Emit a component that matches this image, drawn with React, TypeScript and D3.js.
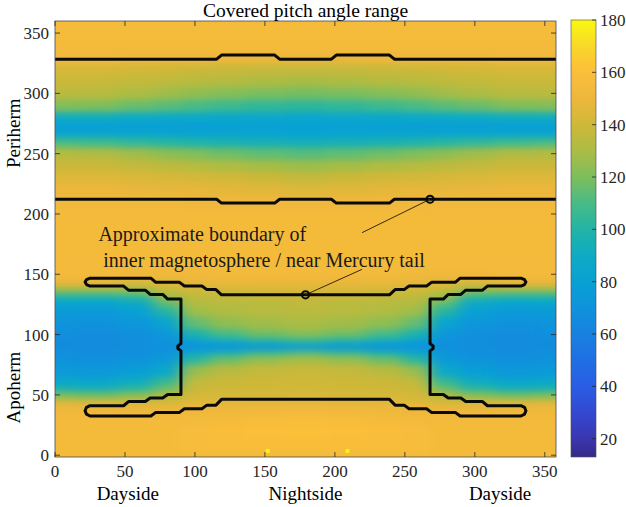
import React from "react";
import * as d3 from "d3";

// ---------------- data ----------------
const xCols = [0, 30, 60, 80, 100, 120, 150, 179, 208, 238, 258, 278, 298, 328, 358];
const yRows = [0, 10, 20, 30, 40, 45, 50, 55, 60, 70, 80, 85, 90, 95, 100, 110, 120, 125, 130, 135, 140, 145, 150, 160, 180, 200, 210, 220, 230, 240, 250, 260, 265, 270, 275, 280, 290, 300, 310, 320, 330, 340, 350, 360];
// covered pitch angle range (deg), one row per yRows entry, one column per xCols entry
const coveredRange = [
  [155, 155, 155, 155, 156, 156, 156, 156, 156, 156, 156, 155, 155, 155, 155],
  [155, 155, 155, 155, 157, 158, 159, 159, 159, 158, 157, 155, 155, 155, 155],
  [155, 155, 155, 155, 157, 159, 160, 161, 160, 159, 157, 155, 155, 155, 155],
  [154, 154, 154, 154, 155, 156, 157, 158, 157, 156, 155, 154, 154, 154, 154],
  [151, 151, 150, 149, 150, 151, 152, 153, 152, 151, 150, 149, 150, 151, 151],
  [144, 143, 141, 142, 145, 146, 146, 146, 146, 146, 145, 142, 141, 143, 144],
  [120, 118, 123, 132, 142, 142, 142, 143, 142, 142, 142, 132, 123, 118, 120],
  [98, 96, 104, 118, 139, 140, 140, 141, 140, 140, 139, 118, 104, 96, 98],
  [86, 85, 91, 106, 136, 139, 140, 140, 140, 139, 136, 106, 91, 85, 86],
  [75, 74, 78, 87, 126, 134, 137, 138, 137, 134, 126, 87, 78, 74, 75],
  [70, 69, 71, 75, 104, 118, 126, 130, 126, 118, 104, 75, 71, 69, 70],
  [68, 67, 69, 71, 86, 96, 106, 112, 106, 96, 86, 71, 69, 67, 68],
  [67, 66, 68, 69, 70, 70, 72, 74, 72, 70, 70, 69, 68, 66, 67],
  [67, 66, 68, 70, 80, 90, 98, 104, 98, 90, 80, 70, 68, 66, 67],
  [68, 67, 69, 73, 98, 110, 118, 122, 118, 110, 98, 73, 69, 67, 68],
  [71, 70, 73, 83, 115, 124, 128, 130, 128, 124, 115, 83, 73, 70, 71],
  [76, 75, 79, 100, 127, 131, 133, 134, 133, 131, 127, 100, 79, 75, 76],
  [81, 80, 85, 112, 131, 133, 134, 135, 134, 133, 131, 112, 85, 80, 81],
  [92, 91, 97, 122, 134, 135, 136, 137, 136, 135, 134, 122, 97, 91, 92],
  [114, 114, 116, 133, 138, 139, 140, 141, 140, 139, 138, 133, 116, 114, 114],
  [138, 138, 134, 141, 143, 144, 145, 145, 145, 144, 143, 141, 134, 138, 138],
  [150, 150, 147, 147, 149, 150, 150, 151, 150, 150, 149, 147, 147, 150, 150],
  [154, 154, 153, 153, 153, 154, 154, 154, 154, 154, 153, 153, 153, 154, 154],
  [155, 155, 155, 155, 155, 155, 155, 155, 155, 155, 155, 155, 155, 155, 155],
  [155, 155, 155, 155, 155, 155, 155, 155, 155, 155, 155, 155, 155, 155, 155],
  [155, 155, 155, 155, 155, 155, 155, 155, 155, 155, 155, 155, 155, 155, 155],
  [153, 153, 153, 153, 152, 152, 152, 152, 152, 152, 152, 153, 153, 153, 153],
  [150, 150, 149, 148, 148, 147, 146, 145, 146, 147, 148, 148, 149, 150, 150],
  [145, 145, 144, 143, 142, 141, 139, 137, 139, 141, 142, 143, 144, 145, 145],
  [139, 139, 137, 135, 133, 131, 129, 127, 129, 131, 133, 135, 137, 139, 139],
  [133, 132, 128, 124, 121, 118, 115, 113, 115, 118, 121, 124, 128, 132, 133],
  [112, 110, 106, 103, 100, 98, 96, 95, 96, 98, 100, 103, 106, 110, 112],
  [90, 90, 89, 88, 87, 86, 85, 84, 85, 86, 87, 88, 89, 90, 90],
  [78, 78, 79, 79, 80, 80, 80, 80, 80, 80, 80, 79, 79, 78, 78],
  [80, 80, 79, 79, 79, 80, 80, 80, 80, 80, 79, 79, 79, 80, 80],
  [92, 92, 90, 89, 88, 87, 86, 85, 86, 87, 88, 89, 90, 92, 92],
  [121, 120, 116, 113, 110, 107, 104, 103, 104, 107, 110, 113, 116, 120, 121],
  [134, 133, 130, 127, 124, 121, 119, 118, 119, 121, 124, 127, 130, 133, 134],
  [138, 138, 136, 135, 133, 132, 130, 129, 130, 132, 133, 135, 136, 138, 138],
  [142, 142, 141, 140, 139, 138, 137, 137, 137, 138, 139, 140, 141, 142, 142],
  [152, 152, 151, 151, 151, 150, 150, 150, 150, 150, 151, 151, 151, 152, 152],
  [155, 155, 155, 155, 155, 155, 155, 155, 155, 155, 155, 155, 155, 155, 155],
  [156, 156, 156, 156, 156, 156, 156, 156, 156, 156, 156, 156, 156, 156, 156],
  [156, 156, 156, 156, 156, 156, 156, 156, 156, 156, 156, 156, 156, 156, 156],
];
const hotX = [152, 209];
const hotY = [3.5, 3.5];
const hotValue = [178, 178];

const periX = [0, 115.5, 119, 157, 160.5, 197.5, 201, 239, 242.5, 358];
const periTopY = [328.3, 328.3, 331.8, 331.8, 328.3, 328.3, 331.8, 331.8, 328.3, 328.3];
const periBotY = [212.2, 212.2, 209, 209, 212.2, 212.2, 209, 209, 212.2, 212.2];
const apoBoundary: [number, number][] = [
  [21.5, 143.5], [22.5, 145.5], [25, 146.8], [68.5, 146.8], [72, 143.3], [89, 143.3], [92.5, 140.3], [105, 140.3],
  [108.5, 137.3], [115, 137.3], [119, 133], [239, 133], [243, 137.3], [249.5, 137.3], [253, 140.3], [265.5, 140.3],
  [269, 143.3], [286, 143.3], [289.5, 146.8], [333, 146.8], [335.5, 145.5], [336.5, 143.5], [335.5, 141.5], [333, 140.2],
  [309, 140.2], [305.5, 136.8], [293.5, 136.8], [290, 133.3], [281, 133.3], [277.5, 129.4], [268, 129.4],
  [268, 92.5], [270.2, 90.5], [270.2, 88.5], [268, 86.5], [268, 50.3],
  [277.5, 50.3], [281, 47.4], [290, 47.4], [293.5, 44.5], [305.5, 44.5], [309, 41], [333, 41],
  [335.5, 39.7], [336.5, 36.8], [335.5, 34], [333, 32.5],
  [289.5, 32.5], [286, 35.5], [269, 35.5], [265.5, 38.5], [253, 38.5], [249.5, 41.5], [243, 41.5], [239, 46.3],
  [119, 46.3], [115, 41.5], [108.5, 41.5], [105, 38.5], [92.5, 38.5], [89, 35.5], [72, 35.5], [68.5, 32.5], [25, 32.5],
  [22.5, 34], [21.5, 36.8], [22.5, 39.7], [25, 41],
  [49, 41], [52.5, 44.5], [64.5, 44.5], [68, 47.4], [77, 47.4], [80.5, 50.3], [90, 50.3],
  [90, 86.5], [87.8, 88.5], [87.8, 90.5], [90, 92.5], [90, 129.4],
  [80.5, 129.4], [77, 133.3], [68, 133.3], [64.5, 136.8], [52.5, 136.8], [49, 140.2], [25, 140.2], [22.5, 141.5],
];
const markerX = [268, 179];
const markerY = [212.2, 133];
const noteLines = ["Approximate boundary of", "inner magnetosphere / near Mercury tail"];
const noteX = [31, 34.5];
const noteY = [177.3, 156];
const leaderEndX = [219.4, 219.4];
const leaderEndY = [184.5, 154.1];

const xTicks = [0, 50, 100, 150, 200, 250, 300, 350];
const yTicks = [0, 50, 100, 150, 200, 250, 300, 350];
const cTicks = [20, 40, 60, 80, 100, 120, 140, 160, 180];
const sideLabelsX = ["Dayside", "Nightside", "Dayside"];
const sideLabelsXPos = [52, 179, 318];
const sideLabelsY = ["Apoherm", "Periherm"];
const sideLabelsYPos = [56, 267];
const titleText = "Covered pitch angle range";

// ---------------- styles ----------------
const FONT = "'Liberation Serif', 'Times New Roman', serif";
const C_MIN = 13;
const C_MAX = 180;
const cmapValues = [13, 20, 30, 40, 50, 60, 70, 80, 90, 100, 110, 120, 130, 140, 150, 160, 165, 170, 180];
const cmapColors = [
  "#352A87", "#3A36B0", "#3448D2", "#2A5DE4", "#1F6FE3", "#1881E0", "#0F92DC", "#08A1D4", "#0EABC3", "#22B4A6",
  "#48BB86", "#7DBE5C", "#ABBC44", "#CFB838", "#EDB73C", "#FBBE3A", "#FCC932", "#F8D82A", "#F9F90F",
];

export default function App() {
  const L = 55, R = 556, T = 21, B = 457;
  const x = d3.scaleLinear().domain([0, 358]).range([L, R]);
  const y = d3.scaleLinear().domain([-1.5, 360]).range([B, T]);
  const color = d3
    .scaleLinear<string>()
    .domain(cmapValues)
    .range(cmapColors)
    .interpolate(d3.interpolateRgb)
    .clamp(true);

  const CB_L = 571, CB_R = 596, CB_T = 20, CB_B = 457;
  const cy = d3.scaleLinear().domain([C_MIN, C_MAX]).range([CB_B, CB_T]);

  const edge = (arr: number[], i: number, pad: number) => {
    const lo = i === 0 ? arr[0] - pad : (arr[i - 1] + arr[i]) / 2;
    const hi = i === arr.length - 1 ? arr[i] + pad : (arr[i] + arr[i + 1]) / 2;
    return [lo, hi];
  };

  const cells: JSX.Element[] = [];
  yRows.forEach((yv, j) => {
    const [y0, y1] = edge(yRows, j, 25);
    xCols.forEach((xv, i) => {
      const [x0, x1] = edge(xCols, i, 25);
      cells.push(
        <rect
          key={`c${i}-${j}`}
          x={x(x0)}
          y={y(y1)}
          width={x(x1) - x(x0) + 0.6}
          height={y(y0) - y(y1) + 0.6}
          fill={color(coveredRange[j][i])}
        />
      );
    });
  });

  const line = d3.line<[number, number]>().x((d) => x(d[0])).y((d) => y(d[1]));
  const periTop = line(periX.map((v, i) => [v, periTopY[i]] as [number, number]));
  const periBot = line(periX.map((v, i) => [v, periBotY[i]] as [number, number]));
  const apoPath = line(apoBoundary) + "Z";

  const tickColor = "#262626";

  return (
    <svg width={626} height={507} style={{ position: "absolute", left: 0, top: 0, background: "#fff" }} fontFamily={FONT}>
      <defs>
        <clipPath id="plotClip">
          <rect x={L} y={T} width={R - L} height={B - T} />
        </clipPath>
        <filter id="smooth" x="-10%" y="-10%" width="120%" height="120%" colorInterpolationFilters="sRGB">
          <feGaussianBlur stdDeviation="8 3" />
        </filter>
        <linearGradient id="cbar" x1="0" y1="1" x2="0" y2="0">
          {cmapValues.map((v, i) => (
            <stop key={v} offset={(v - C_MIN) / (C_MAX - C_MIN)} stopColor={cmapColors[i]} />
          ))}
        </linearGradient>
      </defs>

      {/* heatmap */}
      <g clipPath="url(#plotClip)">
        <g filter="url(#smooth)" shapeRendering="crispEdges">{cells}</g>
        {hotX.map((hx, i) => (
          <rect key={`h${i}`} x={x(hx) - 2} y={y(hotY[i]) - 2} width={4} height={4} fill={color(hotValue[i])} />
        ))}
      </g>

      {/* boundaries */}
      <path d={periTop || ""} fill="none" stroke="#0a0a0a" strokeWidth={3} strokeLinejoin="round" />
      <path d={periBot || ""} fill="none" stroke="#0a0a0a" strokeWidth={3} strokeLinejoin="round" />
      <path d={apoPath} fill="none" stroke="#0a0a0a" strokeWidth={3} strokeLinejoin="round" />

      {/* annotation */}
      {markerX.map((mx, i) => (
        <g key={`m${i}`}>
          <line x1={x(mx)} y1={y(markerY[i])} x2={x(leaderEndX[i])} y2={y(leaderEndY[i])} stroke="#3a2a10" strokeWidth={1} />
          <circle cx={x(mx)} cy={y(markerY[i])} r={3.6} fill="none" stroke="#0a0a0a" strokeWidth={2} />
        </g>
      ))}
      {noteLines.map((t, i) => (
        <text key={`n${i}`} x={x(noteX[i])} y={y(noteY[i])} fontSize={20} fill="#1a1a1a">
          {t}
        </text>
      ))}

      {/* axes box & ticks */}
      <rect x={L} y={T} width={R - L} height={B - T} fill="none" stroke="#4a4a4a" strokeWidth={0.8} />
      {xTicks.map((t) => (
        <g key={`xt${t}`}>
          <line x1={x(t)} x2={x(t)} y1={B} y2={B - 5} stroke={tickColor} strokeWidth={0.8} />
          <line x1={x(t)} x2={x(t)} y1={T} y2={T + 5} stroke={tickColor} strokeWidth={0.8} />
          <text x={x(t)} y={477} fontSize={17} textAnchor="middle" fill={tickColor}>
            {t}
          </text>
        </g>
      ))}
      {yTicks.map((t) => (
        <g key={`yt${t}`}>
          <line x1={L} x2={L + 5} y1={y(t)} y2={y(t)} stroke={tickColor} strokeWidth={0.8} />
          <line x1={R} x2={R - 5} y1={y(t)} y2={y(t)} stroke={tickColor} strokeWidth={0.8} />
          <text x={49} y={y(t) + 6} fontSize={17} textAnchor="end" fill={tickColor}>
            {t}
          </text>
        </g>
      ))}

      {/* title & labels */}
      <text x={(L + R) / 2} y={17} fontSize={19.5} textAnchor="middle" fill="#000">
        {titleText}
      </text>
      {sideLabelsX.map((s, i) => (
        <text key={`sx${i}`} x={x(sideLabelsXPos[i])} y={500} fontSize={19} textAnchor="middle" fill="#000">
          {s}
        </text>
      ))}
      {sideLabelsY.map((s, i) => (
        <text
          key={`sy${i}`}
          transform={`translate(20,${y(sideLabelsYPos[i])}) rotate(-90)`}
          fontSize={19}
          textAnchor="middle"
          fill="#000"
        >
          {s}
        </text>
      ))}

      {/* colorbar */}
      <rect x={CB_L} y={CB_T} width={CB_R - CB_L} height={CB_B - CB_T} fill="url(#cbar)" stroke="#4a4a4a" strokeWidth={0.6} />
      {cTicks.map((t) => (
        <g key={`ct${t}`}>
          <line x1={CB_R} x2={CB_R - 4} y1={cy(t)} y2={cy(t)} stroke={tickColor} strokeWidth={0.8} />
          <text x={600} y={cy(t) + 6} fontSize={17} fill={tickColor}>
            {t}
          </text>
        </g>
      ))}
    </svg>
  );
}
